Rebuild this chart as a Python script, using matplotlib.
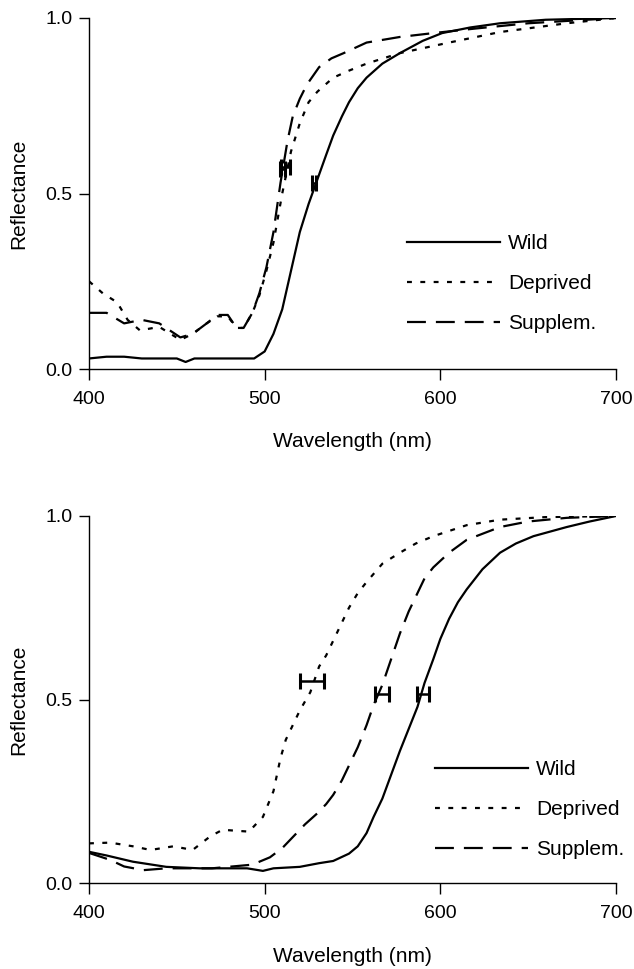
import matplotlib
matplotlib.use("Agg")
import matplotlib.pyplot as plt

plt.rcParams['font.family'] = ['Liberation Sans', 'DejaVu Sans']

# ---- Top panel data ----
top_wild_wl = [400, 410, 420, 430, 450, 455, 460, 480, 494, 500, 505, 510, 515, 520, 525, 530, 535, 539, 544, 548, 553, 558, 567, 577, 590, 601, 617, 634, 660, 700]
top_wild_r = [0.03, 0.035, 0.035, 0.03, 0.03, 0.02, 0.03, 0.03, 0.03, 0.05, 0.10, 0.17, 0.28, 0.39, 0.47, 0.54, 0.61, 0.665, 0.72, 0.76, 0.80, 0.83, 0.87, 0.90, 0.935, 0.957, 0.973, 0.985, 0.995, 1.0]

top_depr_wl = [400, 408, 416, 422, 429, 440, 452, 459, 467, 473, 479, 484, 488, 493, 497, 501, 505, 510, 515, 520, 525, 530, 539, 548, 558, 577, 605, 634, 672, 700]
top_depr_r = [0.25, 0.215, 0.19, 0.14, 0.11, 0.12, 0.083, 0.10, 0.13, 0.15, 0.15, 0.117, 0.117, 0.16, 0.21, 0.28, 0.36, 0.50, 0.62, 0.70, 0.76, 0.79, 0.83, 0.85, 0.87, 0.90, 0.93, 0.96, 0.985, 1.0]

top_supp_wl = [400, 410, 420, 430, 440, 452, 459, 467, 473, 479, 484, 488, 493, 497, 501, 505, 509, 513, 516, 520, 524, 531, 538, 545, 558, 577, 596, 620, 650, 700]
top_supp_r = [0.16, 0.16, 0.13, 0.14, 0.13, 0.09, 0.10, 0.13, 0.154, 0.154, 0.117, 0.117, 0.16, 0.216, 0.29, 0.39, 0.53, 0.65, 0.72, 0.77, 0.81, 0.86, 0.885, 0.90, 0.93, 0.946, 0.957, 0.97, 0.985, 1.0]

top_err_x = [528, 510, 512]
top_err_y = [0.53, 0.57, 0.575]
top_err_dx = [1.0, 1.5, 2.5]

# ---- Bottom panel data ----
bot_wild_wl = [400, 410, 425, 444, 463, 490, 499, 505, 520, 531, 539, 548, 553, 558, 562, 567, 572, 577, 582, 587, 591, 596, 600, 605, 610, 615, 624, 634, 643, 653, 672, 685, 700]
bot_wild_r = [0.085, 0.075, 0.058, 0.044, 0.04, 0.04, 0.033, 0.04, 0.044, 0.054, 0.06, 0.08, 0.10, 0.136, 0.18, 0.23, 0.295, 0.36, 0.42, 0.48, 0.545, 0.61, 0.665, 0.72, 0.765, 0.80, 0.855, 0.90, 0.925, 0.945, 0.97, 0.985, 1.0]

bot_depr_wl = [400, 412, 425, 435, 448, 459, 469, 476, 491, 499, 505, 509, 512, 516, 520, 526, 531, 535, 539, 544, 548, 553, 558, 567, 577, 586, 596, 615, 634, 660, 700]
bot_depr_r = [0.108, 0.11, 0.10, 0.09, 0.10, 0.09, 0.127, 0.145, 0.14, 0.18, 0.25, 0.34, 0.39, 0.43, 0.47, 0.52, 0.59, 0.62, 0.66, 0.71, 0.75, 0.79, 0.82, 0.87, 0.90, 0.925, 0.945, 0.975, 0.99, 0.997, 1.0]

bot_supp_wl = [400, 412, 420, 431, 444, 470, 493, 503, 510, 516, 523, 530, 535, 539, 544, 548, 553, 558, 562, 567, 572, 577, 582, 587, 591, 596, 605, 615, 634, 650, 672, 700]
bot_supp_r = [0.082, 0.063, 0.045, 0.035, 0.04, 0.04, 0.05, 0.07, 0.095, 0.125, 0.16, 0.19, 0.215, 0.24, 0.28, 0.32, 0.37, 0.43, 0.485, 0.54, 0.61, 0.68, 0.74, 0.79, 0.83, 0.86, 0.90, 0.935, 0.97, 0.985, 0.995, 1.0]

bot_err_x = [590, 527, 567]
bot_err_y = [0.515, 0.55, 0.515]
bot_err_dx = [3.5, 7.0, 4.0]

labels = ["Wild", "Deprived", "Supplem."]
xticks = [400, 500, 600, 700]
yticks = [0.0, 0.5, 1.0]

W, H = 634, 969
fig = plt.figure(figsize=(W / 100, H / 100), dpi=100)

ax1 = fig.add_axes([89 / W, 1 - 369 / H, 527 / W, 351 / H])
ax2 = fig.add_axes([89 / W, 1 - 883 / H, 527 / W, 367 / H])

styles = [dict(ls='-'), dict(ls=(0, (2.2, 3.8))), dict(ls=(0, (8.5, 4.5)))]
FS = 15
TFS = 14

def setup(ax, series, errs, legend_xy, xlab_y):
    for (wl, r), lab, st in zip(series, labels, styles):
        ax.plot(wl, r, color='black', lw=1.6, label=lab, **st)
    ex, ey, edx = errs
    ax.errorbar(ex, ey, xerr=edx, fmt='none', ecolor='black', elinewidth=1.8,
                capsize=6, capthick=2.2)
    ax.set_xlim(400, 700)
    ax.set_ylim(0, 1)
    ax.set_xticks(xticks)
    ax.set_yticks(yticks)
    ax.set_yticklabels([f"{v:.1f}" for v in yticks])
    ax.spines['top'].set_visible(False)
    ax.spines['right'].set_visible(False)
    for s in ('left', 'bottom'):
        ax.spines[s].set_linewidth(1.0)
    ax.tick_params(axis='x', direction='out', length=8, width=1, labelsize=TFS, pad=8)
    ax.tick_params(axis='y', direction='out', length=7, width=1, labelsize=TFS, pad=5)
    ax.set_ylabel("Reflectance", fontsize=FS)
    ax.set_xlabel("Wavelength (nm)", fontsize=FS)
    ax.yaxis.set_label_coords(-0.115, 0.5)
    ax.xaxis.set_label_coords(0.5, xlab_y)
    leg = ax.legend(loc='upper left', bbox_to_anchor=legend_xy, frameon=False,
                    fontsize=FS, handlelength=4.47, handletextpad=0.38,
                    labelspacing=1.0, borderaxespad=0)
    return leg

setup(ax1, [(top_wild_wl, top_wild_r), (top_depr_wl, top_depr_r), (top_supp_wl, top_supp_r)],
      (top_err_x, top_err_y, top_err_dx), ((399 - 89) / 527, (369 - 226) / 351), -0.18)
setup(ax2, [(bot_wild_wl, bot_wild_r), (bot_depr_wl, bot_depr_r), (bot_supp_wl, bot_supp_r)],
      (bot_err_x, bot_err_y, bot_err_dx), ((427 - 89) / 527, (883 - 752) / 367), -0.174)

fig.savefig("out.png", dpi=100)
